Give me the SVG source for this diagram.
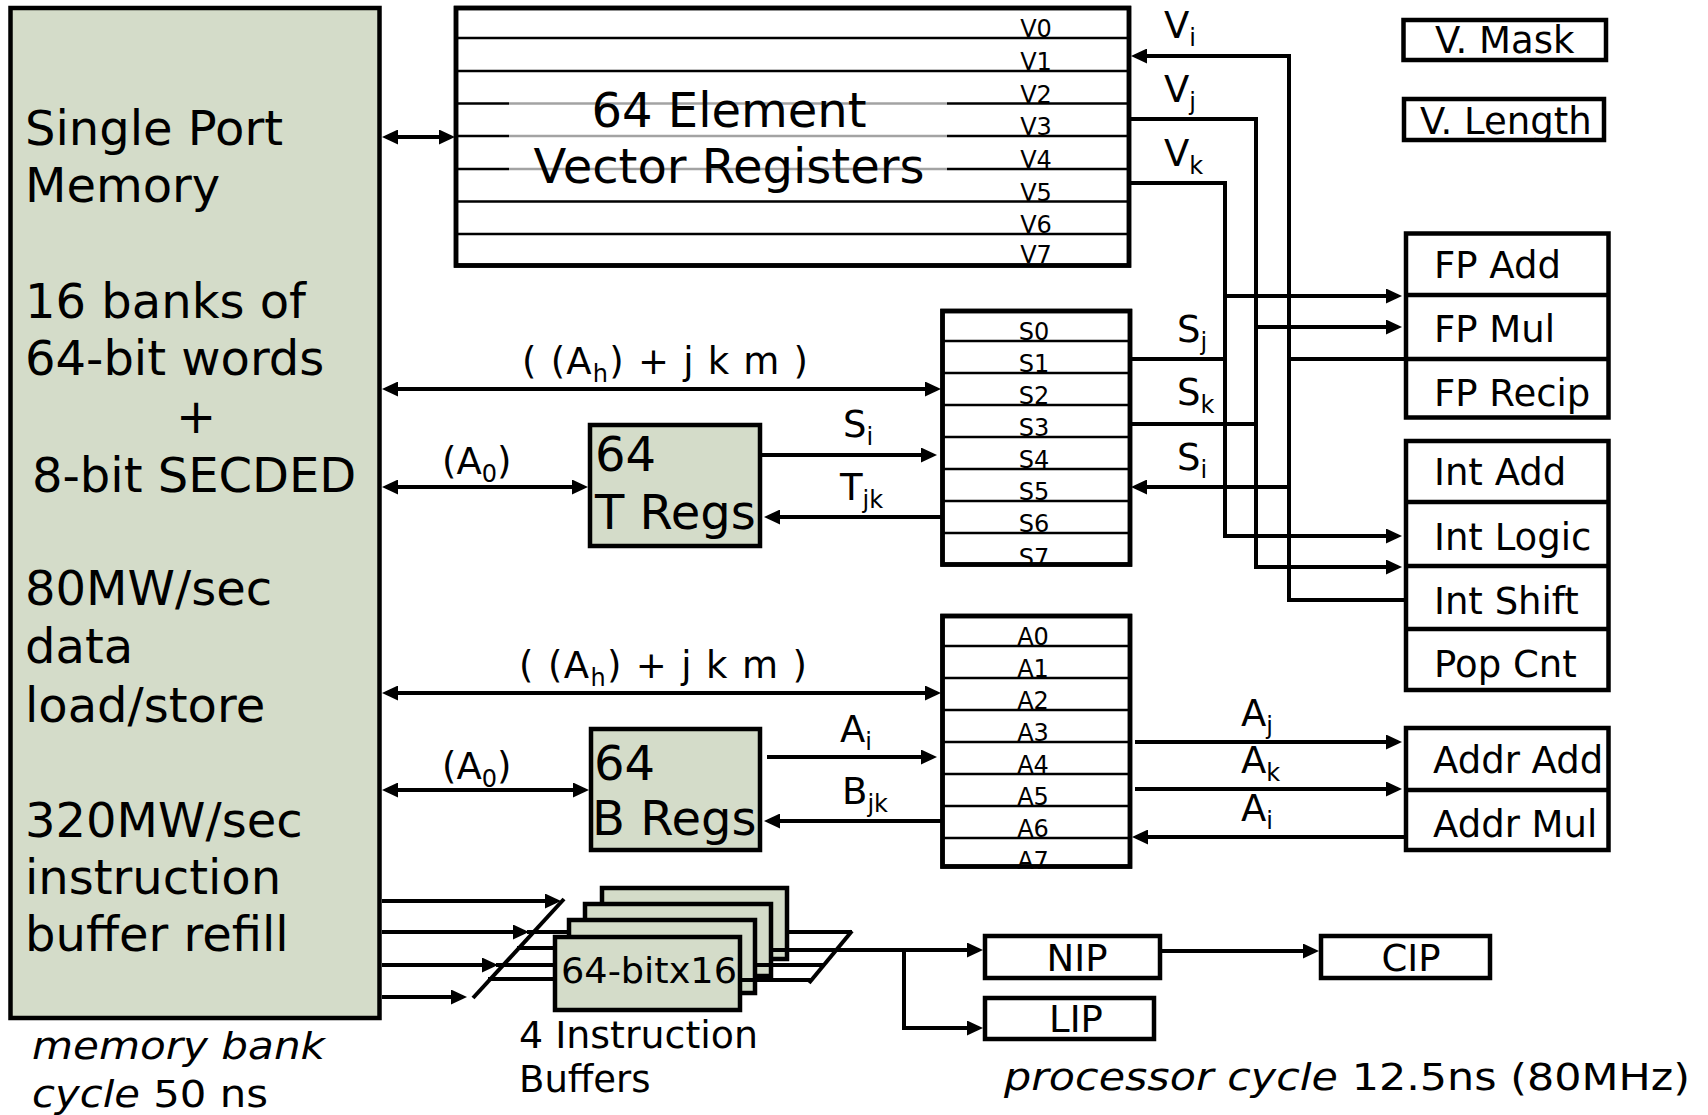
<svg xmlns="http://www.w3.org/2000/svg" width="1708" height="1115" viewBox="0 0 1708 1115">
<defs>
<style>
text{font-family:"DejaVu Sans",Verdana,"Liberation Sans",sans-serif;fill:#000}
.big{font-size:48px}
.mid{font-size:37px}
.reg{font-size:24px;text-anchor:middle}
.sub{font-size:24px}
.it{font-style:italic}
.box{fill:#fff;stroke:#000;stroke-width:4.5}
.frame{fill:none;stroke:#000;stroke-width:4.5}
.sage{fill:#d4dcc9;stroke:#000;stroke-width:4.5}
.row{stroke:#000;stroke-width:2.5}
.sep{stroke:#000;stroke-width:4.5}
.gray{stroke:#a3a3a3;stroke-width:2.5}
.ln{fill:none;stroke:#000;stroke-width:4}
.arr{marker-end:url(#ah)}
.dbl{marker-start:url(#ah);marker-end:url(#ah)}
</style>
<marker id="ah" markerUnits="userSpaceOnUse" viewBox="0 0 16 15" markerWidth="16" markerHeight="15" refX="12" refY="7.5" orient="auto-start-reverse"><path d="M0,0 L16,7.5 L0,15 z" fill="#000"/></marker>
</defs>
<rect width="1708" height="1115" fill="#fff"/>

<g id="memory">
<rect class="sage" x="10.5" y="8" width="369" height="1010"/>
<text class="big" x="25" y="145">Single Port</text>
<text class="big" x="25" y="202">Memory</text>
<text class="big" x="25" y="318">16 banks of</text>
<text class="big" x="25" y="375">64-bit words</text>
<text class="big" x="196" y="433" text-anchor="middle">+</text>
<text class="big" x="32" y="492">8-bit SECDED</text>
<text class="big" x="25" y="605">80MW/sec</text>
<text class="big" x="25" y="663">data</text>
<text class="big" x="25" y="722">load/store</text>
<text class="big" x="25" y="837">320MW/sec</text>
<text class="big" x="25" y="894">instruction</text>
<text class="big" x="25" y="951">buffer refill</text>
</g>

<g id="vregs">
<rect class="box" x="456" y="8" width="673" height="257.5"/>
<line class="row" x1="456" y1="38" x2="1129" y2="38"/>
<line class="row" x1="456" y1="71" x2="1129" y2="71"/>
<line class="row" x1="456" y1="103.5" x2="509" y2="103.5"/>
<line class="gray" x1="509" y1="103.5" x2="947" y2="103.5"/>
<line class="row" x1="947" y1="103.5" x2="1129" y2="103.5"/>
<line class="row" x1="456" y1="136" x2="509" y2="136"/>
<line class="gray" x1="509" y1="136" x2="947" y2="136"/>
<line class="row" x1="947" y1="136" x2="1129" y2="136"/>
<line class="row" x1="456" y1="169" x2="509" y2="169"/>
<line class="gray" x1="509" y1="169" x2="947" y2="169"/>
<line class="row" x1="947" y1="169" x2="1129" y2="169"/>
<line class="row" x1="456" y1="201.5" x2="1129" y2="201.5"/>
<line class="row" x1="456" y1="234" x2="1129" y2="234"/>
<text class="big" x="729" y="127" text-anchor="middle">64 Element</text>
<text class="big" x="729" y="183" text-anchor="middle">Vector Registers</text>
<text class="reg" x="1036" y="37">V0</text>
<text class="reg" x="1036" y="70">V1</text>
<text class="reg" x="1036" y="102.5">V2</text>
<text class="reg" x="1036" y="135">V3</text>
<text class="reg" x="1036" y="168">V4</text>
<text class="reg" x="1036" y="200.5">V5</text>
<text class="reg" x="1036" y="233">V6</text>
<text class="reg" x="1036" y="263">V7</text>
<rect class="frame" x="456" y="8" width="673" height="257.5"/>
</g>

<g id="sregs">
<rect class="box" x="942.5" y="311" width="187.5" height="253.5"/>
<line class="row" x1="942.5" y1="341" x2="1130" y2="341"/>
<line class="row" x1="942.5" y1="373" x2="1130" y2="373"/>
<line class="row" x1="942.5" y1="405" x2="1130" y2="405"/>
<line class="row" x1="942.5" y1="437" x2="1130" y2="437"/>
<line class="row" x1="942.5" y1="469" x2="1130" y2="469"/>
<line class="row" x1="942.5" y1="501" x2="1130" y2="501"/>
<line class="row" x1="942.5" y1="533" x2="1130" y2="533"/>
<text class="reg" x="1034" y="340">S0</text>
<text class="reg" x="1034" y="372">S1</text>
<text class="reg" x="1034" y="404">S2</text>
<text class="reg" x="1034" y="436">S3</text>
<text class="reg" x="1034" y="468">S4</text>
<text class="reg" x="1034" y="500">S5</text>
<text class="reg" x="1034" y="532">S6</text>
<text class="reg" x="1034" y="566">S7</text>
<rect class="frame" x="942.5" y="311" width="187.5" height="253.5"/>
</g>

<g id="aregs">
<rect class="box" x="942.5" y="616" width="187.5" height="250.5"/>
<line class="row" x1="942.5" y1="646" x2="1130" y2="646"/>
<line class="row" x1="942.5" y1="678" x2="1130" y2="678"/>
<line class="row" x1="942.5" y1="710" x2="1130" y2="710"/>
<line class="row" x1="942.5" y1="742" x2="1130" y2="742"/>
<line class="row" x1="942.5" y1="774" x2="1130" y2="774"/>
<line class="row" x1="942.5" y1="806" x2="1130" y2="806"/>
<line class="row" x1="942.5" y1="838" x2="1130" y2="838"/>
<text class="reg" x="1033" y="645">A0</text>
<text class="reg" x="1033" y="677">A1</text>
<text class="reg" x="1033" y="709">A2</text>
<text class="reg" x="1033" y="741">A3</text>
<text class="reg" x="1033" y="773">A4</text>
<text class="reg" x="1033" y="805">A5</text>
<text class="reg" x="1033" y="837">A6</text>
<text class="reg" x="1033" y="869">A7</text>
<rect class="frame" x="942.5" y="616" width="187.5" height="250.5"/>
</g>

<g id="tregs">
<rect class="sage" x="590" y="425" width="170" height="121"/>
<text class="big" x="595" y="471">64</text>
<text class="big" x="595" y="529">T Regs</text>
</g>

<g id="bregs">
<rect class="sage" x="591" y="729" width="169" height="121"/>
<text class="big" x="594" y="780">64</text>
<text class="big" x="592" y="835">B Regs</text>
</g>

<g id="vmask">
<rect class="box" x="1403.5" y="20" width="202.5" height="40"/>
<text class="mid" x="1435" y="53">V. Mask</text>
</g>
<g id="vlength">
<rect class="box" x="1404" y="99" width="200" height="41"/>
<text class="mid" x="1420" y="134">V. Length</text>
</g>

<g id="fp-units">
<rect class="box" x="1406" y="233.5" width="202.5" height="184"/>
<line class="sep" x1="1406" y1="295" x2="1608.5" y2="295"/>
<line class="sep" x1="1406" y1="359" x2="1608.5" y2="359"/>
<text class="mid" x="1434" y="278">FP Add</text>
<text class="mid" x="1434" y="342">FP Mul</text>
<text class="mid" x="1434" y="406">FP Recip</text>
</g>

<g id="int-units">
<rect class="box" x="1406" y="441" width="202.5" height="249"/>
<line class="sep" x1="1406" y1="502" x2="1608.5" y2="502"/>
<line class="sep" x1="1406" y1="566" x2="1608.5" y2="566"/>
<line class="sep" x1="1406" y1="629" x2="1608.5" y2="629"/>
<text class="mid" x="1434" y="485">Int Add</text>
<text class="mid" x="1434" y="550">Int Logic</text>
<text class="mid" x="1434" y="614">Int Shift</text>
<text class="mid" x="1434" y="677">Pop Cnt</text>
</g>

<g id="addr-units">
<rect class="box" x="1406" y="728" width="202.5" height="122"/>
<line class="sep" x1="1406" y1="790" x2="1608.5" y2="790"/>
<text class="mid" x="1433" y="773">Addr Add</text>
<text class="mid" x="1433" y="837">Addr Mul</text>
</g>

<g id="connectors">
<line class="ln dbl" x1="386" y1="137" x2="451" y2="137"/>
<line class="ln dbl" x1="386" y1="389" x2="937" y2="389"/>
<line class="ln dbl" x1="386" y1="487" x2="584" y2="487"/>
<line class="ln arr" x1="762" y1="455" x2="933" y2="455"/>
<line class="ln arr" x1="941" y1="517" x2="768" y2="517"/>
<line class="ln dbl" x1="386" y1="693" x2="937" y2="693"/>
<line class="ln dbl" x1="386" y1="790" x2="585" y2="790"/>
<line class="ln arr" x1="767" y1="757" x2="933" y2="757"/>
<line class="ln arr" x1="941" y1="821" x2="768" y2="821"/>

<polyline class="ln arr" points="1404,600 1289,600 1289,56 1135,56"/>
<line class="ln" x1="1289" y1="359" x2="1404" y2="359"/>
<line class="ln arr" x1="1289" y1="487" x2="1135" y2="487"/>
<polyline class="ln arr" points="1129,119 1256,119 1256,567 1398,567"/>
<line class="ln arr" x1="1256" y1="327" x2="1398" y2="327"/>
<line class="ln" x1="1130" y1="424" x2="1256" y2="424"/>
<polyline class="ln arr" points="1129,183 1225,183 1225,536 1398,536"/>
<line class="ln arr" x1="1225" y1="296" x2="1398" y2="296"/>
<line class="ln" x1="1130" y1="359" x2="1225" y2="359"/>

<line class="ln arr" x1="1135" y1="742" x2="1398" y2="742"/>
<line class="ln arr" x1="1135" y1="789" x2="1398" y2="789"/>
<line class="ln arr" x1="1404" y1="837" x2="1136" y2="837"/>

<line class="ln arr" x1="382" y1="901" x2="557" y2="901"/>
<line class="ln arr" x1="382" y1="932" x2="525" y2="932"/>
<line class="ln arr" x1="382" y1="965" x2="494" y2="965"/>
<line class="ln arr" x1="382" y1="997" x2="463" y2="997"/>
<line class="ln" x1="527" y1="932" x2="570" y2="932"/>
<line class="ln" x1="517" y1="948" x2="557" y2="948"/>
<line class="ln" x1="496" y1="965" x2="557" y2="965"/>
<line class="ln" x1="488" y1="979" x2="557" y2="979"/>
<line class="ln" x1="473" y1="998" x2="564" y2="899"/>
</g>

<g id="ibuf">
<rect class="sage" x="602" y="888" width="185" height="71"/>
<rect class="sage" x="585" y="904" width="186" height="72"/>
<rect class="sage" x="569" y="920" width="186" height="73"/>
<rect class="sage" x="555" y="937" width="185" height="73"/>
<text x="561" y="983" font-size="36" textLength="176" lengthAdjust="spacingAndGlyphs">64-bitx16</text>
</g>

<g id="connectors-out">
<line class="ln" x1="789" y1="932" x2="852" y2="932"/>
<line class="ln arr" x1="773" y1="950" x2="979" y2="950"/>
<line class="ln" x1="757" y1="965" x2="823" y2="965"/>
<line class="ln" x1="742" y1="980" x2="811" y2="980"/>
<line class="ln" x1="809" y1="983" x2="852" y2="931"/>
<polyline class="ln arr" points="904,950 904,1028 979,1028"/>
<line class="ln arr" x1="1162" y1="951" x2="1315" y2="951"/>
</g>

<g id="nip">
<rect class="box" x="985" y="936" width="175" height="42"/>
<text class="mid" x="1077" y="971" text-anchor="middle">NIP</text>
</g>
<g id="lip">
<rect class="box" x="985" y="998" width="169" height="41"/>
<text class="mid" x="1076" y="1032" text-anchor="middle">LIP</text>
</g>
<g id="cip">
<rect class="box" x="1321" y="936" width="169" height="42"/>
<text class="mid" x="1411" y="971" text-anchor="middle">CIP</text>
</g>

<g id="labels">
<text class="mid" x="522" y="374" textLength="286" lengthAdjust="spacing">( (A<tspan class="sub" dy="8">h</tspan><tspan dy="-8">) + j k m )</tspan></text>
<text class="mid" x="519" y="678" textLength="288" lengthAdjust="spacing">( (A<tspan class="sub" dy="8">h</tspan><tspan dy="-8">) + j k m )</tspan></text>
<text class="mid" x="442" y="474">(A<tspan class="sub" dy="8">0</tspan><tspan dy="-8">)</tspan></text>
<text class="mid" x="442" y="779">(A<tspan class="sub" dy="8">0</tspan><tspan dy="-8">)</tspan></text>
<text class="mid" x="843" y="437">S<tspan class="sub" dy="8">i</tspan></text>
<text class="mid" x="840" y="500">T<tspan class="sub" dy="8">jk</tspan></text>
<text class="mid" x="840" y="742">A<tspan class="sub" dy="8">i</tspan></text>
<text class="mid" x="842" y="804">B<tspan class="sub" dy="8">jk</tspan></text>
<text class="mid" x="1164" y="38">V<tspan class="sub" dy="8">i</tspan></text>
<text class="mid" x="1164" y="102">V<tspan class="sub" dy="8">j</tspan></text>
<text class="mid" x="1164" y="166">V<tspan class="sub" dy="8">k</tspan></text>
<text class="mid" x="1177" y="342">S<tspan class="sub" dy="8">j</tspan></text>
<text class="mid" x="1177" y="405">S<tspan class="sub" dy="8">k</tspan></text>
<text class="mid" x="1177" y="470">S<tspan class="sub" dy="8">i</tspan></text>
<text class="mid" x="1241" y="726">A<tspan class="sub" dy="8">j</tspan></text>
<text class="mid" x="1241" y="773">A<tspan class="sub" dy="8">k</tspan></text>
<text class="mid" x="1241" y="821">A<tspan class="sub" dy="8">i</tspan></text>
<text class="mid" x="519" y="1048" textLength="239" lengthAdjust="spacingAndGlyphs">4 Instruction</text>
<text class="mid" x="519" y="1092">Buffers</text>
<text class="it" x="32" y="1059" font-size="38" textLength="293" lengthAdjust="spacingAndGlyphs">memory bank</text>
<text x="32" y="1107" font-size="38" textLength="236" lengthAdjust="spacingAndGlyphs"><tspan class="it">cycle</tspan> 50 ns</text>
<text x="1004" y="1090" font-size="38" textLength="686" lengthAdjust="spacingAndGlyphs"><tspan class="it">processor cycle</tspan> 12.5ns (80MHz)</text>
</g>
</svg>
